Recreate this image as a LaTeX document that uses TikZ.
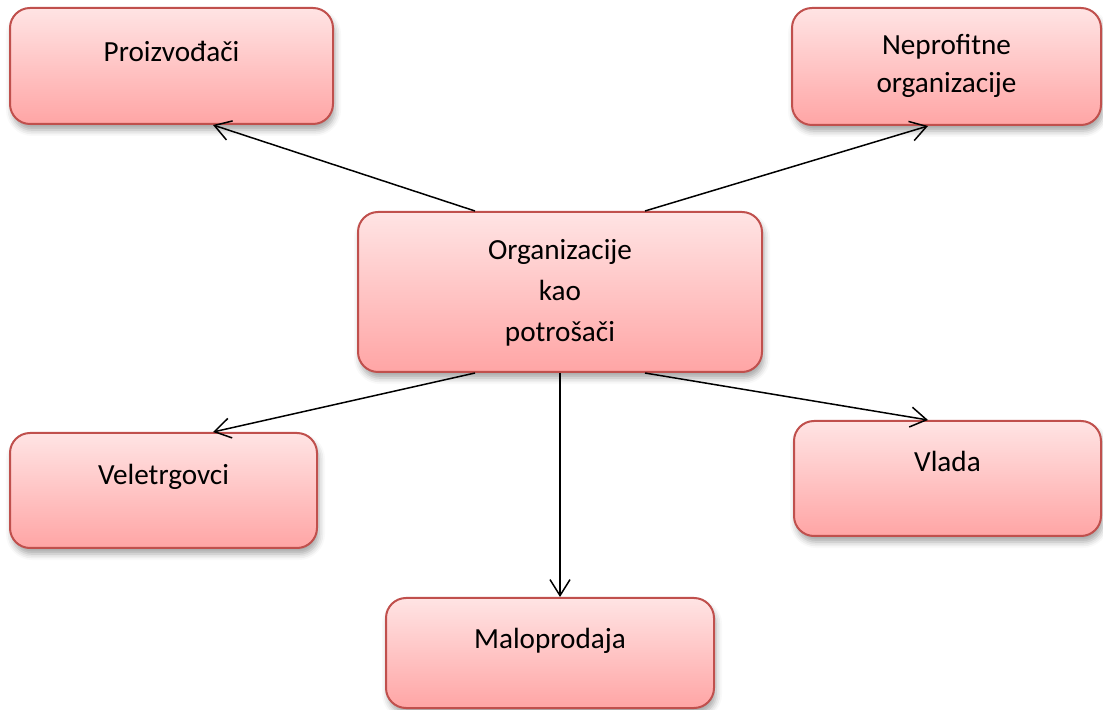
\documentclass[tikz,border=0pt]{standalone}
\usepackage{fontspec}
\setmainfont{Carlito}
\usepackage{tikz}
\usetikzlibrary{arrows.meta,shadows.blur}
\definecolor{boxred}{HTML}{C0504D}
\definecolor{pinktop}{HTML}{FFE4E4}
\definecolor{pinkbot}{HTML}{FFA5A5}
\tikzstyle{box}=[draw=boxred,line width=1pt,rounded corners=10pt,top color=pinktop,bottom color=pinkbot,
  blur shadow={shadow xshift=1pt,shadow yshift=-3pt,shadow blur radius=3pt,shadow opacity=35}]
\tikzstyle{txt}=[inner sep=0pt,align=center,font=\fontsize{14.6}{19}\selectfont]
\tikzstyle{line} = [draw,line width=0.75pt,-{Straight Barb[length=8pt,width=10pt]}]

\begin{document}
\begin{tikzpicture}[x=0.5pt,y=-0.5pt]
  \useasboundingbox (0,0) rectangle (1103,710);
  % boxes
  \node[box,minimum width=161.5pt,minimum height=58pt] (proiz) at (171.5,66) {};
  \node[box,minimum width=154.5pt,minimum height=58.5pt] (neprof) at (946.5,66.5) {};
  \node[box,minimum width=202pt,minimum height=80pt] (org) at (560,292) {};
  \node[box,minimum width=153.5pt,minimum height=57.5pt] (velet) at (163.5,490.5) {};
  \node[box,minimum width=153.5pt,minimum height=57.5pt] (vlada) at (947.5,478.5) {};
  \node[box,minimum width=164pt,minimum height=55pt] (malo) at (550,653) {};
  % texts (base = last line)
  \node[txt,anchor=base] (proiz-t) at (171.5,62) {Proizvođači};
  \node[txt,anchor=base] (neprof-t) at (946.5,93) {Neprofitne\\organizacije};
  \node[txt,anchor=base,font=\fontsize{14.6}{20.5}\selectfont] (org-t) at (560,342) {Organizacije\\kao\\potrošači};
  \node[txt,anchor=base] (velet-t) at (163.5,485) {Veletrgovci};
  \node[txt,anchor=base] (vlada-t) at (947.5,472) {Vlada};
  \node[txt,anchor=base] (malo-t) at (550,648) {Maloprodaja};

  % arrows
  \path [line] ([xshift=-42.5pt]org.north) -- ([xshift=20.75pt]proiz.south);
  \path [line] ([xshift=42.5pt]org.north) -- ([xshift=-9.25pt]neprof.south);
  \path [line] ([xshift=-42.5pt]org.south) -- ([xshift=24.75pt]velet.north);
  \path [line] (org.south) -- ([xshift=5pt]malo.north);
  \path [line] ([xshift=42.5pt]org.south) -- ([xshift=-9.75pt]vlada.north);
\end{tikzpicture}
\end{document}
